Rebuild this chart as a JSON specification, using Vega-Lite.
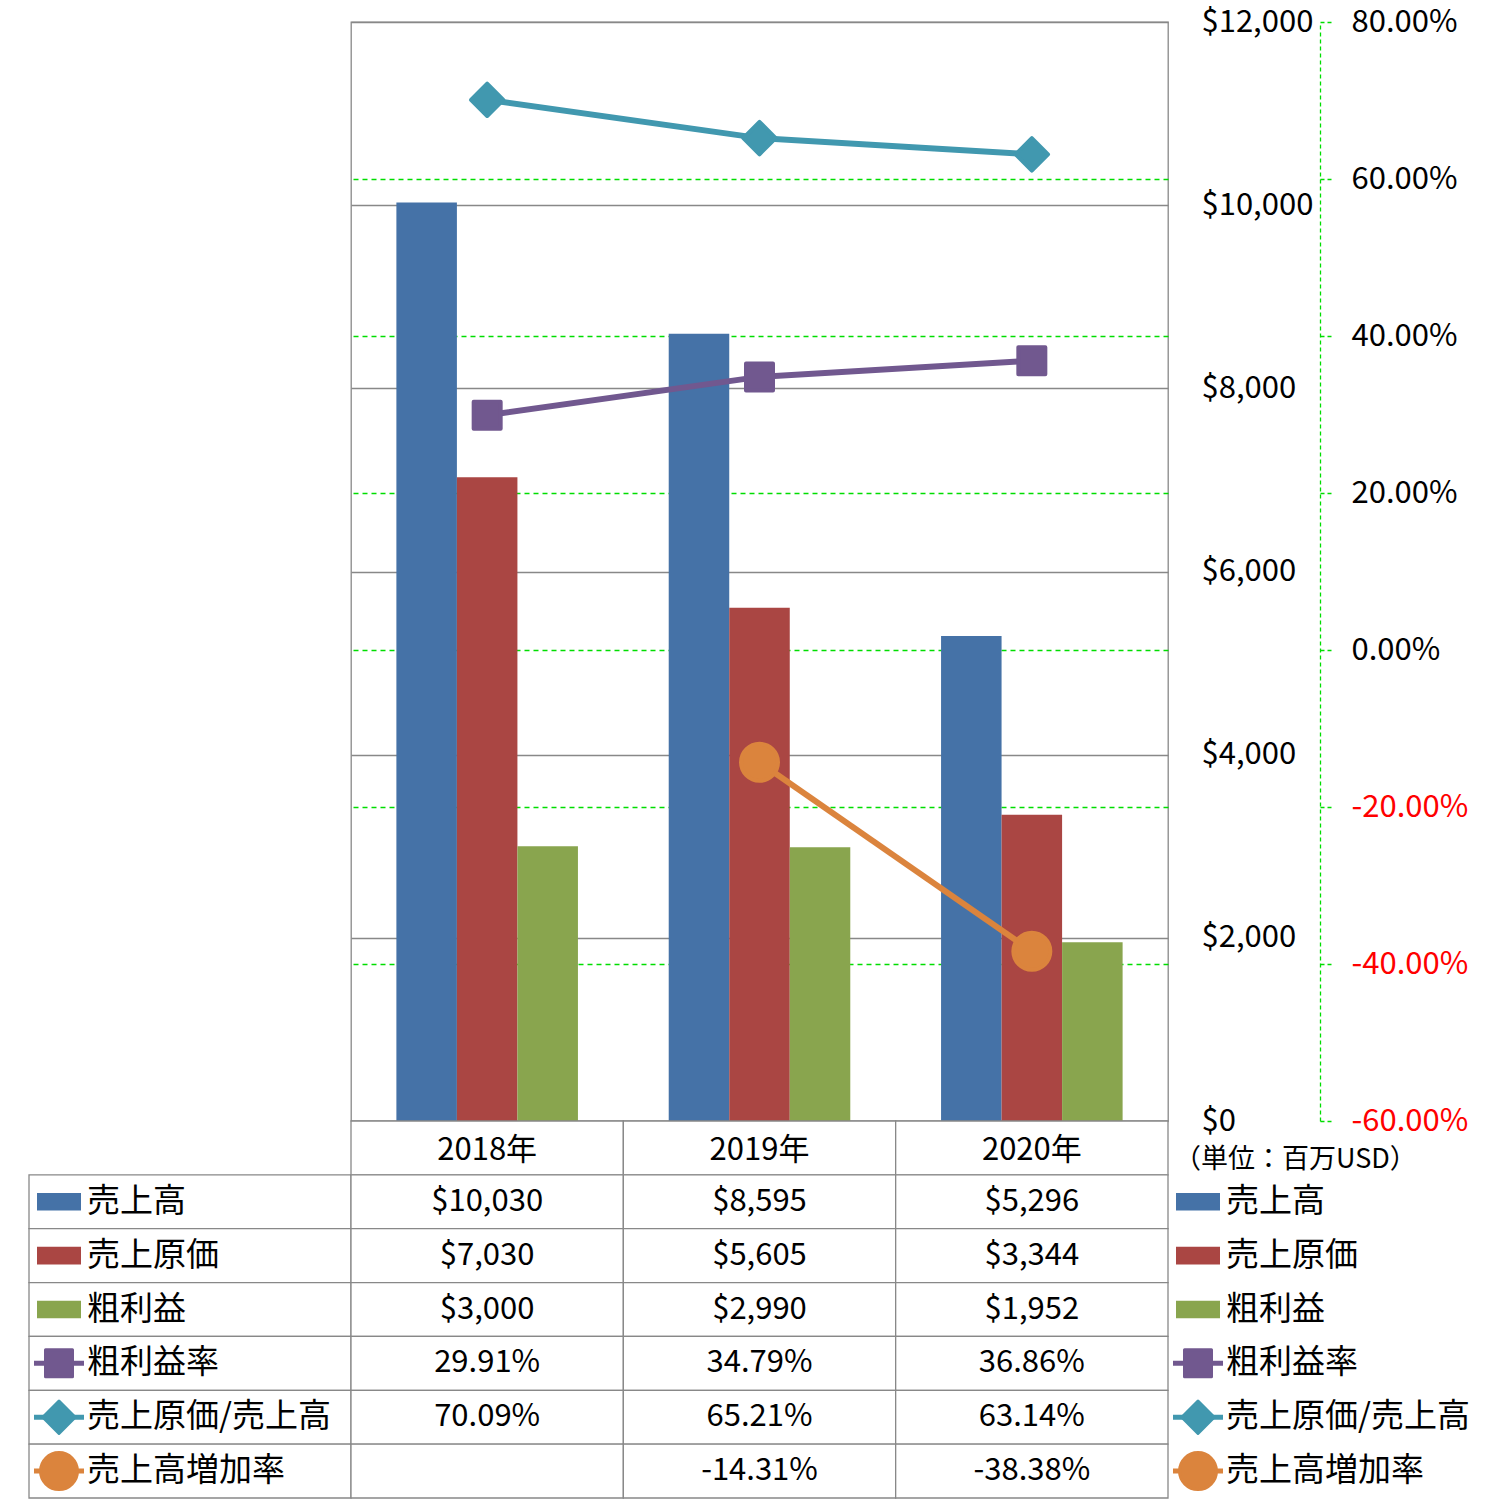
{
  "$schema": "https://vega.github.io/schema/vega-lite/v6.json",
  "background": "white",
  "padding": {"left": 28, "top": 5, "right": 0, "bottom": 2},
  "autosize": {"type": "pad"},
  "config": {"font": "Noto Sans CJK JP", "view": {"stroke": "#888888", "strokeWidth": 1.3}},
  "datasets": {
    "fin": [
      {"year": "2018年", "series": "売上高", "value": 10030, "kind": "usd"},
      {"year": "2019年", "series": "売上高", "value": 8595, "kind": "usd"},
      {"year": "2020年", "series": "売上高", "value": 5296, "kind": "usd"},
      {"year": "2018年", "series": "売上原価", "value": 7030, "kind": "usd"},
      {"year": "2019年", "series": "売上原価", "value": 5605, "kind": "usd"},
      {"year": "2020年", "series": "売上原価", "value": 3344, "kind": "usd"},
      {"year": "2018年", "series": "粗利益", "value": 3000, "kind": "usd"},
      {"year": "2019年", "series": "粗利益", "value": 2990, "kind": "usd"},
      {"year": "2020年", "series": "粗利益", "value": 1952, "kind": "usd"},
      {"year": "2018年", "series": "粗利益率", "value": 0.2991, "kind": "pct"},
      {"year": "2019年", "series": "粗利益率", "value": 0.3479, "kind": "pct"},
      {"year": "2020年", "series": "粗利益率", "value": 0.3686, "kind": "pct"},
      {"year": "2018年", "series": "売上原価/売上高", "value": 0.7009, "kind": "pct"},
      {"year": "2019年", "series": "売上原価/売上高", "value": 0.6521, "kind": "pct"},
      {"year": "2020年", "series": "売上原価/売上高", "value": 0.6314, "kind": "pct"},
      {"year": "2018年", "series": "売上高増加率", "value": null, "kind": "pct"},
      {"year": "2019年", "series": "売上高増加率", "value": -0.1431, "kind": "pct"},
      {"year": "2020年", "series": "売上高増加率", "value": -0.3838, "kind": "pct"}
    ],
    "years": [{"year": "2018年"}, {"year": "2019年"}, {"year": "2020年"}],
    "leg": [
      {"series": "売上高", "kind": "bar"},
      {"series": "売上原価", "kind": "bar"},
      {"series": "粗利益", "kind": "bar"},
      {"series": "粗利益率", "kind": "line"},
      {"series": "売上原価/売上高", "kind": "line"},
      {"series": "売上高増加率", "kind": "line"}
    ]
  },
  "columns": 3,
  "spacing": 0,
  "bounds": "flush",
  "concat": [
    {"width": 322, "height": 1099, "view": {"stroke": null}, "data": {"values": []}, "mark": "point"},
    {
      "width": 817,
      "height": 1099,
      "data": {"name": "fin"},
      "layer": [
        {
          "transform": [{"filter": "datum.kind == 'usd'"}],
          "mark": {"type": "bar"},
          "encoding": {
            "x": {"field": "year", "type": "nominal", "scale": {"paddingInner": 0, "paddingOuter": 0}, "axis": null},
            "xOffset": {"field": "series", "type": "nominal", "scale": {"domain": ["売上高", "売上原価", "粗利益"], "paddingInner": 0, "paddingOuter": 0.75}},
            "y": {
              "field": "value", "type": "quantitative",
              "scale": {"domain": [0, 12000], "nice": false},
              "axis": {
                "orient": "right", "title": null, "values": [0, 2000, 4000, 6000, 8000, 10000, 12000],
                "format": "$,.0f", "tickSize": 0, "ticks": false, "domain": false, "labelPadding": 33,
                "labelFontSize": 31, "labelColor": "#000000", "labelAlign": "left", "labelBaseline": "middle",
                "grid": true, "gridColor": "#888888", "gridWidth": 1.3
              }
            },
            "color": {
              "field": "series", "type": "nominal", "legend": null,
              "scale": {
                "domain": ["売上高", "売上原価", "粗利益", "粗利益率", "売上原価/売上高", "売上高増加率"],
                "range": ["#4572A7", "#AA4643", "#89A54E", "#71588F", "#4198AF", "#DB843D"]
              }
            }
          }
        },
        {
          "transform": [{"filter": "datum.kind == 'pct'"}],
          "layer": [
            {
              "mark": {"type": "line", "strokeWidth": 6},
              "encoding": {
                "x": {"field": "year", "type": "nominal"},
                "y": {
                  "field": "value", "type": "quantitative",
                  "scale": {"domain": [-0.6, 0.8], "nice": false},
                  "axis": {
                    "orient": "right", "title": null, "offset": 152,
                    "values": [-0.6, -0.4, -0.2, 0, 0.2, 0.4, 0.6, 0.8],
                    "labelExpr": "replace(format(datum.value, '.2%'), '−', '-')",
                    "tickSize": 11, "tickColor": "#00dd00", "tickDash": [4, 3], "tickWidth": 1.3,
                    "domainColor": "#00dd00", "domainDash": [4, 3], "domainWidth": 1.3,
                    "labelPadding": 20, "labelFontSize": 31, "labelAlign": "left", "labelBaseline": "middle",
                    "labelColor": {"condition": {"test": "datum.value < 0", "value": "#ff0000"}, "value": "#000000"},
                    "grid": true, "gridColor": "#00dd00", "gridDash": [5, 4], "gridWidth": 1.3,
                    "gridOpacity": {"condition": {"test": "datum.value > 0.7 || datum.value < -0.5", "value": 0}, "value": 1}
                  }
                },
                "color": {"field": "series", "type": "nominal", "legend": null}
              }
            },
            {
              "mark": {"type": "point", "filled": true, "opacity": 1, "strokeWidth": 4, "strokeJoin": "round"},
              "encoding": {
                "x": {"field": "year", "type": "nominal"},
                "y": {"field": "value", "type": "quantitative"},
                "color": {"field": "series", "type": "nominal", "legend": null},
                "stroke": {
                  "field": "series", "type": "nominal", "legend": null,
                  "scale": {"domain": ["粗利益率", "売上原価/売上高", "売上高増加率"], "range": ["#71588F", "#4198AF", "#DB843D"]}
                },
                "shape": {
                  "field": "series", "type": "nominal", "legend": null,
                  "scale": {"domain": ["粗利益率", "売上原価/売上高", "売上高増加率"], "range": ["square", "diamond", "circle"]}
                },
                "size": {
                  "field": "series", "type": "nominal", "legend": null,
                  "scale": {"domain": ["粗利益率", "売上原価/売上高", "売上高増加率"], "range": [729, 1369, 729]}
                }
              }
            }
          ]
        }
      ],
      "resolve": {"scale": {"y": "independent"}, "axis": {"y": "independent"}}
    },
    {"width": 326, "height": 1099, "view": {"stroke": null}, "data": {"values": []}, "mark": "point"},
    {
      "width": 322,
      "height": 377,
      "view": {"stroke": null},
      "data": {"name": "leg"},
      "encoding": {
        "y": {"field": "series", "type": "nominal", "axis": null,
              "scale": {"domain": ["hdr", "売上高", "売上原価", "粗利益", "粗利益率", "売上原価/売上高", "売上高増加率"], "paddingInner": 0, "paddingOuter": 0}}
      },
      "layer": [
        {
          "mark": {"type": "rect", "fill": "white", "stroke": "#888888", "strokeWidth": 1.3},
          "encoding": {"x": {"datum": "c", "type": "nominal", "axis": null, "scale": {"paddingInner": 0, "paddingOuter": 0}}}
        },
        {
          "transform": [{"filter": "datum.kind == 'bar'"}],
          "mark": {"type": "point", "shape": "M-1,-0.4H1V0.4H-1Z", "filled": true, "size": 1936, "opacity": 1},
          "encoding": {
            "x": {"value": 30},
            "color": {"field": "series", "type": "nominal", "legend": null,
              "scale": {"domain": ["売上高", "売上原価", "粗利益", "粗利益率", "売上原価/売上高", "売上高増加率"],
                        "range": ["#4572A7", "#AA4643", "#89A54E", "#71588F", "#4198AF", "#DB843D"]}}
          }
        },
        {
          "transform": [{"filter": "datum.kind == 'line'"}],
          "mark": {"type": "point", "shape": "M-1,-0.1H1V0.1H-1Z", "filled": true, "size": 2500, "opacity": 1},
          "encoding": {"x": {"value": 30}, "color": {"field": "series", "type": "nominal", "legend": null}}
        },
        {
          "transform": [{"filter": "datum.kind == 'line'"}],
          "mark": {"type": "point", "filled": true, "opacity": 1, "strokeWidth": 3, "strokeJoin": "round"},
          "encoding": {
            "x": {"value": 30},
            "color": {"field": "series", "type": "nominal", "legend": null},
            "stroke": {"field": "series", "type": "nominal", "legend": null,
              "scale": {"domain": ["粗利益率", "売上原価/売上高", "売上高増加率"], "range": ["#71588F", "#4198AF", "#DB843D"]}},
            "shape": {"field": "series", "type": "nominal", "legend": null,
              "scale": {"domain": ["粗利益率", "売上原価/売上高", "売上高増加率"], "range": ["square", "diamond", "circle"]}},
            "size": {"field": "series", "type": "nominal", "legend": null,
              "scale": {"domain": ["粗利益率", "売上原価/売上高", "売上高増加率"], "range": [484, 484, 576]}}
          }
        },
        {
          "mark": {"type": "text", "align": "left", "baseline": "middle", "fontSize": 33, "color": "#000000"},
          "encoding": {"x": {"value": 58}, "text": {"field": "series"}}
        }
      ]
    },
    {
      "width": 817,
      "height": 377,
      "view": {"stroke": null},
      "layer": [
        {
          "data": {"name": "years"},
          "mark": {"type": "rect", "fill": "white", "stroke": "#888888", "strokeWidth": 1.3},
          "encoding": {
            "x": {"field": "year", "type": "nominal", "axis": null, "scale": {"paddingInner": 0, "paddingOuter": 0}},
            "y": {"datum": "hdr", "type": "nominal", "axis": null,
                  "scale": {"domain": ["hdr", "売上高", "売上原価", "粗利益", "粗利益率", "売上原価/売上高", "売上高増加率"], "paddingInner": 0, "paddingOuter": 0}}
          }
        },
        {
          "data": {"name": "fin"},
          "mark": {"type": "rect", "fill": "white", "stroke": "#888888", "strokeWidth": 1.3},
          "encoding": {
            "x": {"field": "year", "type": "nominal", "axis": null},
            "y": {"field": "series", "type": "nominal", "axis": null}
          }
        },
        {
          "data": {"name": "years"},
          "mark": {"type": "text", "baseline": "middle", "align": "center", "fontSize": 31, "dy": 3, "color": "#000000"},
          "encoding": {
            "x": {"field": "year", "type": "nominal", "axis": null},
            "y": {"datum": "hdr", "type": "nominal", "axis": null},
            "text": {"field": "year"}
          }
        },
        {
          "data": {"name": "fin"},
          "transform": [{"calculate": "datum.value == null ? '' : (datum.kind == 'usd' ? format(datum.value, '$,.0f') : replace(format(datum.value, '.2%'), '−', '-'))", "as": "label"}],
          "mark": {"type": "text", "baseline": "middle", "align": "center", "fontSize": 31, "color": "#000000"},
          "encoding": {
            "x": {"field": "year", "type": "nominal", "axis": null},
            "y": {"field": "series", "type": "nominal", "axis": null},
            "text": {"field": "label"}
          }
        }
      ]
    },
    {
      "width": 326,
      "height": 377,
      "view": {"stroke": null},
      "data": {"name": "leg"},
      "encoding": {
        "y": {"field": "series", "type": "nominal", "axis": null,
              "scale": {"domain": ["hdr", "売上高", "売上原価", "粗利益", "粗利益率", "売上原価/売上高", "売上高増加率"], "paddingInner": 0, "paddingOuter": 0}}
      },
      "layer": [
        {
          "transform": [{"filter": "datum.kind == 'bar'"}],
          "mark": {"type": "point", "shape": "M-1,-0.4H1V0.4H-1Z", "filled": true, "size": 1936, "opacity": 1},
          "encoding": {
            "x": {"value": 30},
            "color": {"field": "series", "type": "nominal", "legend": null,
              "scale": {"domain": ["売上高", "売上原価", "粗利益", "粗利益率", "売上原価/売上高", "売上高増加率"],
                        "range": ["#4572A7", "#AA4643", "#89A54E", "#71588F", "#4198AF", "#DB843D"]}}
          }
        },
        {
          "transform": [{"filter": "datum.kind == 'line'"}],
          "mark": {"type": "point", "shape": "M-1,-0.1H1V0.1H-1Z", "filled": true, "size": 2500, "opacity": 1},
          "encoding": {"x": {"value": 30}, "color": {"field": "series", "type": "nominal", "legend": null}}
        },
        {
          "transform": [{"filter": "datum.kind == 'line'"}],
          "mark": {"type": "point", "filled": true, "opacity": 1, "strokeWidth": 3, "strokeJoin": "round"},
          "encoding": {
            "x": {"value": 30},
            "color": {"field": "series", "type": "nominal", "legend": null},
            "stroke": {"field": "series", "type": "nominal", "legend": null,
              "scale": {"domain": ["粗利益率", "売上原価/売上高", "売上高増加率"], "range": ["#71588F", "#4198AF", "#DB843D"]}},
            "shape": {"field": "series", "type": "nominal", "legend": null,
              "scale": {"domain": ["粗利益率", "売上原価/売上高", "売上高増加率"], "range": ["square", "diamond", "circle"]}},
            "size": {"field": "series", "type": "nominal", "legend": null,
              "scale": {"domain": ["粗利益率", "売上原価/売上高", "売上高増加率"], "range": [484, 484, 576]}}
          }
        },
        {
          "mark": {"type": "text", "align": "left", "baseline": "middle", "fontSize": 33, "color": "#000000"},
          "encoding": {"x": {"value": 58}, "text": {"field": "series"}}
        },
        {
          "data": {"values": [{"t": "（単位：百万USD）"}]},
          "mark": {"type": "text", "align": "left", "baseline": "middle", "fontSize": 27, "dy": 12, "color": "#000000"},
          "encoding": {"x": {"value": 6}, "y": {"datum": "hdr", "type": "nominal"}, "text": {"field": "t"}}
        }
      ]
    }
  ]
}
